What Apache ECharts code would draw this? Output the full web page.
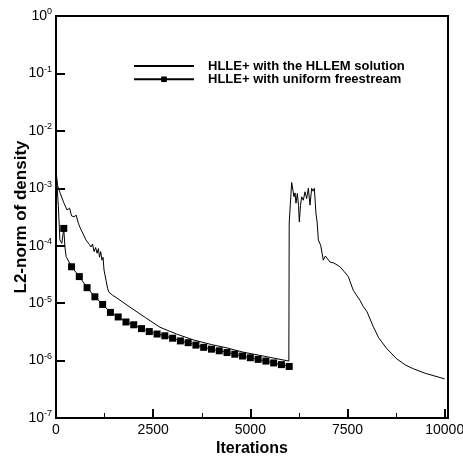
<!DOCTYPE html>
<html>
<head>
<meta charset="utf-8">
<script src="https://cdn.jsdelivr.net/npm/echarts@6/dist/echarts.min.js"></script>
<style>html,body{margin:0;padding:0;background:#fff}#c{width:463px;height:456px}</style>
</head>
<body>
<div id="c"></div>
<script>
// Series 1: HLLE+ with the HLLEM solution
var s1Iter = [0,40,100,200,283,350,400,463,520,580,643,700,770,820,860,900,940,980,1020,1055,1090,1120,1150,1183,1210,1235,1286,1330,1363,1450,1543,1904,2300,2676,3100,3525,4000,4400,4800,5248,5763,5990,
  6000,6063,6100,6123,6150,6174,6209,6240,6260,6290,6320,6363,6406,6449,6492,6535,6578,6610,6646,6689,6720,6749,6780,6809,6877,6930,6980,7049,7150,7306,7420,7520,7650,7821,7906,8000,8163,8300,8508,8765,9000,9193,9500,10000];
var s1Val = [2.0e-3,1.12e-3,8.5e-4,5.6e-4,4.2e-4,4.5e-4,3.3e-4,3.2e-4,3.4e-4,2.4e-4,1.9e-4,1.6e-4,1.26e-4,1.32e-4,1.05e-4,9.5e-5,1.07e-4,7.9e-5,9.3e-5,7.4e-5,8.9e-5,6.3e-5,7.9e-5,5.6e-5,6.3e-5,3.8e-5,2.5e-5,1.78e-5,1.55e-5,1.38e-5,1.26e-5,8.5e-6,5.6e-6,3.8e-6,2.9e-6,2.3e-6,1.9e-6,1.66e-6,1.41e-6,1.23e-6,1.05e-6,9.8e-7,
  2.5e-4,1.26e-3,8.9e-4,7.1e-4,8.3e-4,5.5e-4,8.1e-4,5.0e-4,2.6e-4,5.0e-4,7.1e-4,6.2e-4,8.7e-4,6.6e-4,1.0e-3,5.1e-4,1.0e-3,8.9e-4,1.0e-3,3.6e-4,2.5e-4,1.26e-4,1.2e-4,1.02e-4,5.6e-5,6.6e-5,6.3e-5,5.2e-5,5.0e-5,4.3e-5,3.5e-5,2.9e-5,1.66e-5,1.12e-5,8.7e-6,7.1e-6,3.9e-6,2.5e-6,1.62e-6,1.07e-6,8.3e-7,7.2e-7,6.0e-7,4.8e-7];

// Series 2: HLLE+ with uniform freestream
var s2Iter = [0,60,100,150,200,230,260,400,600,800,1000,1200,1400,1600,1800,2000,2200,2400,2600,2800,3000,3200,3400,3600,3800,4000,4200,4400,4600,4800,5000,5200,5400,5600,5800,6000];
var s2Val = [2.0e-3,5.0e-4,1.26e-4,1.1e-4,2.0e-4,9.5e-5,6.5e-5,4.3e-5,2.9e-5,1.86e-5,1.29e-5,9.5e-6,6.9e-6,5.75e-6,4.7e-6,4.2e-6,3.6e-6,3.2e-6,2.9e-6,2.7e-6,2.45e-6,2.2e-6,2.05e-6,1.86e-6,1.7e-6,1.58e-6,1.48e-6,1.38e-6,1.29e-6,1.2e-6,1.12e-6,1.05e-6,9.8e-7,9.1e-7,8.5e-7,7.9e-7];
var markerEvery = 200;

var seriesNames = ['HLLE+ with the HLLEM solution', 'HLLE+ with uniform freestream'];

var FONT = 'Liberation Sans, Arial, Helvetica, sans-serif';

var d1 = s1Iter.map(function (x, i) { return [x, s1Val[i]]; });
var d2 = s2Iter.map(function (x, i) {
  var mark = x > 0 && x % markerEvery === 0;
  return mark ? { value: [x, s2Val[i]] } : { value: [x, s2Val[i]], symbol: 'none' };
});

var chart = echarts.init(document.getElementById('c'), null, { renderer: 'canvas' });
chart.setOption({
  animation: false,
  backgroundColor: '#fff',
  grid: { left: 56, top: 16, right: 15, bottom: 38, outerBoundsMode: 'none', containLabel: false,
    show: true, borderColor: '#000', borderWidth: 2, backgroundColor: 'transparent' },
  legend: {
    left: 133, top: 59.5, orient: 'vertical', padding: 0,
    itemWidth: 60, itemHeight: 7, itemGap: 0.3,
    textStyle: { fontFamily: FONT, fontSize: 13, fontWeight: 'bold', color: '#000', lineHeight: 13, padding: [0, 0, 0, 9] },
    data: [
      { name: seriesNames[0], itemStyle: { opacity: 0 } },
      { name: seriesNames[1] }
    ]
  },
  xAxis: [{
    type: 'value', min: 0, max: 10085, interval: 2500,
    name: 'Iterations', nameLocation: 'middle', nameGap: 23, nameMoveOverlap: false,
    nameTextStyle: { fontFamily: FONT, fontSize: 16, fontWeight: 'bold', color: '#000' },
    axisLine: { show: true, onZero: false, lineStyle: { color: '#000', width: 2 } },
    axisTick: { show: true, inside: true, length: 9, lineStyle: { color: '#000', width: 2 } },
    minorTick: { show: true, splitNumber: 2, length: 5, lineStyle: { color: '#000', width: 1 } },
    axisLabel: { fontFamily: FONT, fontSize: 14, color: '#000', margin: 5, showMaxLabel: false,
      formatter: function (v) { return String(v); } },
    splitLine: { show: false }
  }, {
    type: 'value', position: 'top', min: 0, max: 10085,
    axisLine: { show: true, onZero: false, lineStyle: { color: '#000', width: 2 } },
    axisTick: { show: false }, axisLabel: { show: false }, splitLine: { show: false }
  }],
  yAxis: [{
    type: 'log', logBase: 10, min: 1e-7, max: 1,
    name: 'L2-norm of density', nameLocation: 'middle', nameGap: 26, nameMoveOverlap: false,
    nameTextStyle: { fontFamily: FONT, fontSize: 17, fontWeight: 'bold', color: '#000' },
    axisLine: { show: true, onZero: false, lineStyle: { color: '#000', width: 2 } },
    axisTick: { show: true, inside: true, length: 9, lineStyle: { color: '#000', width: 2 } },
    axisLabel: {
      margin: 4,
      formatter: function (v) {
        var e = Math.round(Math.log10(v));
        return '{b|10}{s|' + e + '}';
      },
      rich: {
        b: { fontFamily: FONT, fontSize: 14, color: '#000' },
        s: { fontFamily: FONT, fontSize: 9, color: '#000', padding: [0, 0, 8, 0] }
      }
    },
    splitLine: { show: false }
  }, {
    type: 'log', logBase: 10, min: 1e-7, max: 1, position: 'right',
    axisLine: { show: true, onZero: false, lineStyle: { color: '#000', width: 2 } },
    axisTick: { show: false }, axisLabel: { show: false }, splitLine: { show: false }
  }],
  series: [
    {
      name: seriesNames[0], type: 'line', data: d1, symbol: 'none', showSymbol: false,
      lineStyle: { color: '#000', width: 1 }, itemStyle: { color: '#000' }
    },
    {
      name: seriesNames[1], type: 'line', data: d2, symbol: 'rect', symbolSize: 7, showAllSymbol: true,
      lineStyle: { color: '#000', width: 1 }, itemStyle: { color: '#000' }
    }
  ]
});
</script>
</body>
</html>
